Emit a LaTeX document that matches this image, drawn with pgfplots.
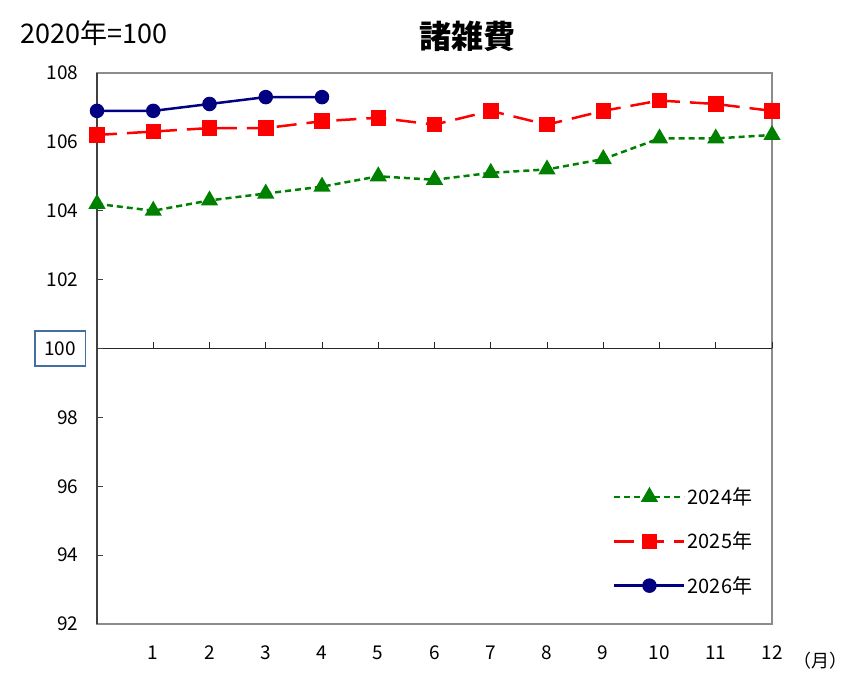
\documentclass[border=0pt]{standalone}
\usepackage{pgfplots}
\pgfplotsset{compat=1.18}
\usepackage{fontspec}
\setmainfont{Noto Sans CJK JP}
\definecolor{cgreen}{RGB}{0,128,0}
\definecolor{cred}{RGB}{255,0,0}
\definecolor{cnavy}{RGB}{0,0,128}
\definecolor{cbox}{RGB}{68,110,160}
\definecolor{cframe}{RGB}{140,140,140}
\begin{document}
\begin{tikzpicture}[x=1pt,y=1pt]
\useasboundingbox (0,0) rectangle (866,687);
\node[anchor=west,font=\fontsize{27}{30}\selectfont] at (17,654) {2020年=100};
\node[font=\fontsize{32}{36}\selectfont\bfseries] at (467,651) {諸雑費};
\node[font=\fontsize{18}{20}\selectfont] at (820,26) {（月）};
\begin{axis}[
  at={(97pt,63pt)}, anchor=south west,
  scale only axis, width=675pt, height=551pt,
  xmin=0, xmax=12, ymin=92, ymax=108,
  xtick={1,...,12},
  x tick label style={font=\fontsize{19}{22}\selectfont, yshift=-18pt},
  xtick style={draw=none},
  ytick={92,94,96,98,102,104,106,108},
  tick pos=left,
  extra y ticks={100},
  extra y tick style={grid=major, major grid style={black!85,line width=1pt},
     yticklabel style={draw=cbox, line width=1.5pt, minimum width=50pt, minimum height=35pt, inner sep=2pt, xshift=4pt}},
  y tick label style={font=\fontsize{19}{22}\selectfont, xshift=-15pt},
  ytick style={black!75, line width=1pt},
  tick align=inside, major tick length=6pt,
  /pgf/number format/assume math mode=true,
  axis line style={cframe, line width=2pt},
  clip=false,
  legend style={at={(0.76,0.255)}, anchor=north west, draw=none, fill=none,
     font=\fontsize{20}{22}\selectfont, row sep=22pt,
     /tikz/every even column/.append style={column sep=6pt}},
  legend cell align=left,
  legend image code/.code={\draw[mark repeat=2,mark phase=2] plot coordinates {(0pt,0pt) (35pt,0pt) (70pt,0pt)};},
]
\pgfplotsinvokeforeach{1,...,12}{\draw[black!85,line width=1pt] (axis cs:#1,100) -- ([yshift=6pt]axis cs:#1,100);}
\draw[black!75,line width=1.8pt] (rel axis cs:0,0) -- (rel axis cs:0,1);
\addplot[cgreen, line width=2.5pt, dash pattern=on 6pt off 4pt, mark=triangle*, mark size=7.5pt, mark options={solid}]
coordinates {(0,104.2) (1,104.0) (2,104.3) (3,104.5) (4,104.7) (5,105.0) (6,104.9) (7,105.1) (8,105.2) (9,105.5) (10,106.1) (11,106.1) (12,106.2)};
\addlegendentry{2024年}
\addplot[cred, line width=2.5pt, dash pattern=on 20pt off 10pt, mark=square*, mark size=6.5pt, mark options={solid}]
coordinates {(0,106.2) (1,106.3) (2,106.4) (3,106.4) (4,106.6) (5,106.7) (6,106.5) (7,106.9) (8,106.5) (9,106.9) (10,107.2) (11,107.1) (12,106.9)};
\addlegendentry{2025年}
\addplot[cnavy, line width=2.5pt, mark=*, mark size=6pt, mark options={solid}]
coordinates {(0,106.9) (1,106.9) (2,107.1) (3,107.3) (4,107.3)};
\addlegendentry{2026年}
\end{axis}
\end{tikzpicture}
\end{document}
